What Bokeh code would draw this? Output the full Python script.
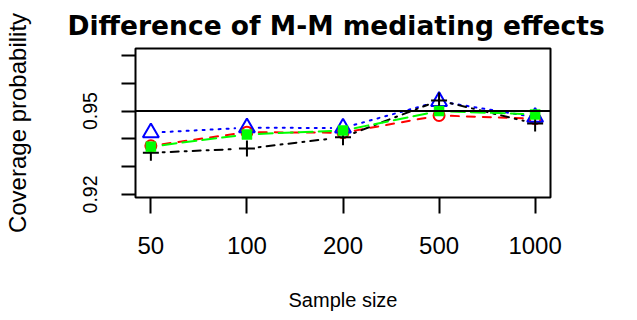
import math
from bokeh.plotting import figure
from bokeh.models import FixedTicker, Span, Range1d, Title
from bokeh.embed import file_html
from bokeh.resources import INLINE

# ---------------- data ----------------
sample_sizes = ["50", "100", "200", "500", "1000"]
red_values = [0.9375, 0.9424, 0.9422, 0.9484, 0.9473]
blue_values = [0.9422, 0.9440, 0.9439, 0.9535, 0.9478]
black_values = [0.9350, 0.9365, 0.9406, 0.9538, 0.9455]
green_values = [0.9372, 0.9416, 0.9430, 0.9500, 0.9488]
y_ticks = [0.92, 0.93, 0.94, 0.95, 0.96, 0.97]
y_tick_labels = ["0.92", "", "", "0.95", "", ""]
reference_level = 0.95
title_text = "Difference of M-M mediating effects"
x_title = "Sample size"
y_title = "Coverage probability"

# ---------------- layout ----------------
W, H = 637, 320
FL, FT, FW, FH = 129, 47, 421, 150
X0, X1 = 0.84, 5.16
Y0, Y1 = 0.9189, 0.9725
KX = FW / (X1 - X0)
KY = FH / (Y1 - Y0)

x = list(range(1, len(sample_sizes) + 1))

p = figure(width=W, height=H, output_backend="svg", toolbar_location=None,
           x_range=Range1d(X0, X1), y_range=Range1d(Y0, Y1),
           min_border_left=FL, min_border_top=FT,
           min_border_right=W - FL - FW, min_border_bottom=H - FT - FH,
           title=None)
p.add_layout(Title(text=title_text, align="left", text_font="DejaVu Sans",
                   text_font_style="bold", text_font_size="26.5px",
                   text_color="black", standoff=15, offset=-68), "above")
p.xgrid.visible = False
p.ygrid.visible = False
p.background_fill_color = "white"
p.border_fill_color = "white"
p.outline_line_color = "black"
p.outline_line_width = 2
p.outline_line_alpha = 1

FONT = "Liberation Sans"

# x axis
p.xaxis.ticker = FixedTicker(ticks=x)
p.xaxis.major_label_overrides = {xi: s for xi, s in zip(x, sample_sizes)}
p.xaxis.major_tick_in = 0
p.xaxis.major_tick_out = 16
p.xaxis.major_tick_line_width = 2
p.xaxis.major_tick_line_color = "black"
p.xaxis.minor_tick_line_color = None
p.xaxis.axis_line_color = None
p.xaxis.major_label_text_font = FONT
p.xaxis.major_label_text_font_size = "24px"
p.xaxis.major_label_text_color = "black"
p.xaxis.major_label_standoff = 23
p.xaxis.axis_label = x_title
p.xaxis.axis_label_text_font = FONT
p.xaxis.axis_label_text_font_style = "normal"
p.xaxis.axis_label_text_font_size = "20px"
p.xaxis.axis_label_text_color = "black"
p.xaxis.axis_label_standoff = 32

# y axis
p.yaxis.ticker = FixedTicker(ticks=y_ticks)
p.yaxis.major_label_overrides = {t: s for t, s in zip(y_ticks, y_tick_labels)}
p.yaxis.major_tick_in = 0
p.yaxis.major_tick_out = 14
p.yaxis.major_tick_line_width = 2
p.yaxis.major_tick_line_color = "black"
p.yaxis.minor_tick_line_color = None
p.yaxis.axis_line_color = None
p.yaxis.major_label_text_font = FONT
p.yaxis.major_label_text_font_size = "19.5px"
p.yaxis.major_label_text_color = "black"
p.yaxis.major_label_orientation = "parallel"
p.yaxis.major_label_standoff = 24
p.yaxis.axis_label = y_title
p.yaxis.axis_label_text_font = FONT
p.yaxis.axis_label_text_font_style = "normal"
p.yaxis.axis_label_text_font_size = "24px"
p.yaxis.axis_label_text_color = "black"
p.yaxis.axis_label_standoff = 50

GAP = 12.0


def gapped_segments(xs, ys, gap=GAP):
    x0s, y0s, x1s, y1s = [], [], [], []
    for i in range(len(xs) - 1):
        dxp = (xs[i + 1] - xs[i]) * KX
        dyp = (ys[i + 1] - ys[i]) * KY
        L = math.hypot(dxp, dyp)
        if L <= 2 * gap:
            continue
        t = gap / L
        x0s.append(xs[i] + t * (xs[i + 1] - xs[i]))
        y0s.append(ys[i] + t * (ys[i + 1] - ys[i]))
        x1s.append(xs[i + 1] - t * (xs[i + 1] - xs[i]))
        y1s.append(ys[i + 1] - t * (ys[i + 1] - ys[i]))
    return x0s, y0s, x1s, y1s


series = [
    (red_values, "#FF0000", "8 8", dict(marker="circle", size=11, fill_color=None, line_color="#FF0000", line_width=2)),
    (blue_values, "#0000FF", "2 6", dict(marker="triangle", size=16, fill_color=None, line_color="#0000FF", line_width=2)),
    (black_values, "black", "2 6 8 6", dict(marker="cross", size=16, fill_color=None, line_color="black", line_width=2)),
    (green_values, "#00FF00", "14 6", dict(marker="square", size=10, fill_color="#00FF00", line_color="#00FF00", line_width=0.5)),
]

for vals, col, dash, mk in series:
    x0s, y0s, x1s, y1s = gapped_segments(x, vals)
    p.segment(x0s, y0s, x1s, y1s, line_color=col, line_width=2, line_dash=dash, line_cap="round")
for vals, col, dash, mk in series:
    p.scatter(x, vals, **mk)

p.add_layout(Span(location=reference_level, dimension="width", line_color="black", line_width=2))

open("out.html", "w").write(file_html(p, INLINE))
